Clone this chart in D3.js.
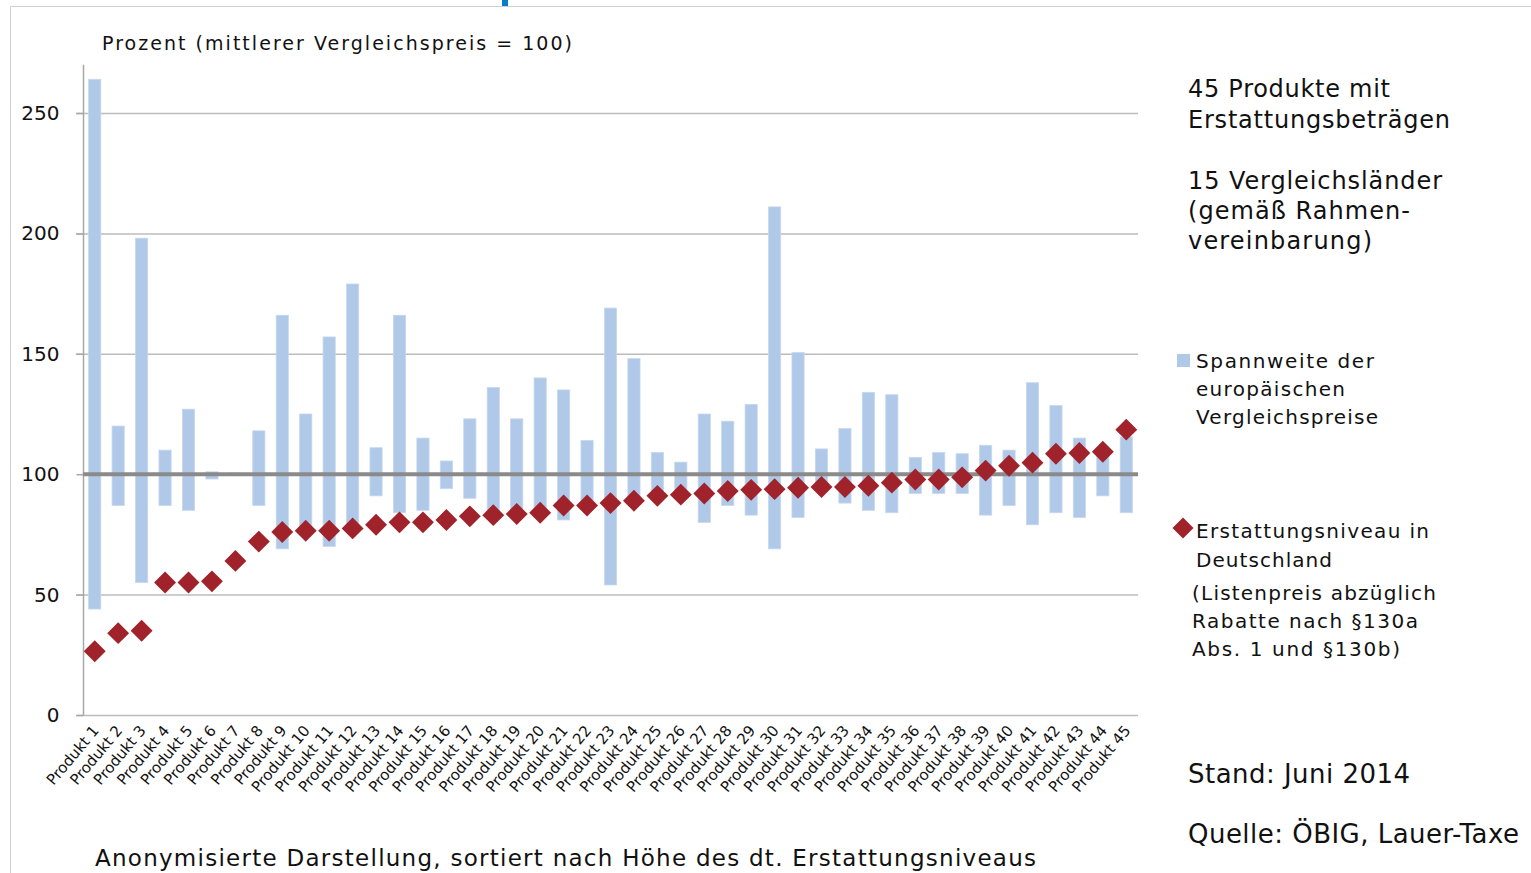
<!DOCTYPE html>
<html>
    <head>
        <meta charset="utf-8">
        <title>Erstattungsbeträge</title>
        <script src="https://d3js.org/d3.v7.min.js"></script>
        <style>
            body { margin: 0; background: #fff; }
            text { font-family: "DejaVu Sans", Verdana, sans-serif; fill: #111; }
        </style>
    </head>
    <body>
       <div id="svgcontainer"></div>
       <script>
            var width = 1531;
            var height = 873;

            // 45 Produkte, sortiert nach dt. Erstattungsniveau
            var produkte = d3.range(1, 46).map(function(i) { return "Produkt " + i; });

            // Spannweite der europäischen Vergleichspreise (min / max)
            var spanneMin = [44, 87, 55, 87, 85, 98, 99.5, 87, 69, 75,
                             70, 77, 91, 84, 85, 94, 90, 84, 84, 83,
                             81, 87, 54, 89, 91, 91.5, 80, 87, 83, 69,
                             82, 94.5, 88, 85, 84, 92, 92, 92, 83, 87,
                             79, 84, 82, 91, 84];
            var spanneMax = [264, 120, 198, 110, 127, 101, 100.5, 118, 166, 125,
                             157, 179, 111, 166, 115, 105.5, 123, 136, 123, 140,
                             135, 114, 169, 148, 109, 105, 125, 122, 129, 211,
                             150.5, 110.5, 119, 134, 133, 107, 109, 108.5, 112, 110,
                             138, 128.5, 115, 109, 115.5];

            // Erstattungsniveau in Deutschland
            var erstattung = [26.5, 34, 35, 55, 55, 55.5, 64, 72, 76, 76.5,
                              76.5, 77.5, 79, 80, 80, 81, 82.5, 83, 83.5, 84,
                              87, 87, 88, 89, 91, 91.5, 92, 93, 93.5, 93.8,
                              94.4, 94.7, 94.7, 95.2, 96.5, 97.8, 97.8, 98.7, 101.5, 103.5,
                              104.8, 108.5, 108.8, 109.3, 118.5];

            var yTicks = [0, 50, 100, 150, 200, 250];

            var svg = d3.select("#svgcontainer")
                .append("svg")
                .attr("width", width)
                .attr("height", height);

            // rahmen
            svg.append("path")
                .attr("d", "M10.5," + height + "V6.5H" + width)
                .attr("fill", "none")
                .attr("stroke", "#d0d0d0");
            svg.append("rect")
                .attr("x", 502).attr("y", 0)
                .attr("width", 6).attr("height", 6)
                .attr("fill", "#0a7bc4");

            var x = d3.scaleBand()
                .domain(produkte)
                .range([83, 1138])
                .paddingInner(0.48)
                .paddingOuter(0.24);

            var y = d3.scaleLinear()
                .domain([0, 270])
                .range([715, 715 - 270 * 2.408]);

            // gitterlinien
            svg.append("g")
                .selectAll("line")
                .data(yTicks.filter(function(d) { return d != 100; }))
                .enter().append("line")
                .attr("x1", 76).attr("x2", 1138)
                .attr("y1", function(d) { return y(d) + 0.5; })
                .attr("y2", function(d) { return y(d) + 0.5; })
                .attr("stroke", "#bcbcbc")
                .attr("stroke-width", 1.5);

            // y-achse
            var yAxis = svg.append("g")
                .attr("transform", "translate(83.5,0)")
                .call(d3.axisLeft(y).tickValues(yTicks).tickSize(7).tickPadding(17));
            yAxis.select(".domain").attr("stroke", "#a8a8a8").attr("stroke-width", 1.5)
                .attr("d", "M0," + y(270) + "V" + y(0));
            yAxis.selectAll(".tick line").attr("stroke", "#a8a8a8").attr("stroke-width", 1.5);
            yAxis.selectAll(".tick text")
                .style("font-size", "20px")
                .style("font-family", "DejaVu Sans, Verdana, sans-serif")
                .attr("fill", "#111");

            // spannweite balken
            svg.append("g")
                .selectAll("rect")
                .data(produkte)
                .enter().append("rect")
                .attr("x", function(d) { return x(d); })
                .attr("width", x.bandwidth())
                .attr("y", function(d, i) { return y(spanneMax[i]); })
                .attr("height", function(d, i) { return y(spanneMin[i]) - y(spanneMax[i]); })
                .attr("fill", "#b0c9e8")
                .attr("stroke", "#c6d8ef")
                .attr("stroke-width", 0.8);

            // 100-linie
            svg.append("line")
                .attr("x1", 83).attr("x2", 1138)
                .attr("y1", y(100)).attr("y2", y(100))
                .attr("stroke", "#8a8a8a")
                .attr("stroke-width", 4);

            // rauten
            var raute = d3.symbol().type(d3.symbolSquare).size(240);
            svg.append("g")
                .selectAll("path")
                .data(produkte)
                .enter().append("path")
                .attr("d", raute)
                .attr("transform", function(d, i) {
                    return "translate(" + (x(d) + x.bandwidth() / 2) + "," + y(erstattung[i]) + ") rotate(45)";
                })
                .attr("fill", "#a0222a");

            // x-beschriftung
            svg.append("g")
                .selectAll("text")
                .data(produkte)
                .enter().append("text")
                .attr("transform", function(d) {
                    return "translate(" + (x(d) + x.bandwidth() / 2 + 5) + ",731) rotate(-50)";
                })
                .attr("text-anchor", "end")
                .style("font-size", "15px")
                .text(function(d) { return d; });

            function label(txt, tx, ty, size, len) {
                svg.append("text")
                    .attr("x", tx).attr("y", ty)
                    .attr("textLength", len)
                    .style("font-size", size + "px")
                    .text(txt);
            }

            label("Prozent (mittlerer Vergleichspreis  = 100)", 102, 50, 19, 470);
            label("Anonymisierte Darstellung, sortiert nach Höhe des dt. Erstattungsniveaus", 95, 866, 23, 941);

            label("45 Produkte mit", 1188, 97, 24, 202);
            label("Erstattungsbeträgen", 1188, 128, 24, 262);
            label("15 Vergleichsländer", 1188, 189, 24, 254);
            label("(gemäß Rahmen-", 1188, 219, 24, 222);
            label("vereinbarung)", 1188, 249, 24, 184);

            // legende
            svg.append("rect")
                .attr("x", 1177).attr("y", 354)
                .attr("width", 13).attr("height", 13)
                .attr("fill", "#b0c9e8");
            label("Spannweite der", 1196, 368, 20, 178);
            label("europäischen", 1196, 396, 20, 149);
            label("Vergleichspreise", 1196, 424, 20, 182);

            svg.append("path")
                .attr("d", d3.symbol().type(d3.symbolSquare).size(220))
                .attr("transform", "translate(1183,528) rotate(45)")
                .attr("fill", "#a0222a");
            label("Erstattungsniveau in", 1196, 538, 20, 233);
            label("Deutschland", 1196, 567, 20, 136);
            label("(Listenpreis abzüglich", 1192, 600, 20, 244);
            label("Rabatte nach §130a", 1192, 628, 20, 226);
            label("Abs. 1 und §130b)", 1192, 656, 20, 208);

            label("Stand: Juni 2014", 1188, 783, 26, 222);
            label("Quelle: ÖBIG, Lauer-Taxe", 1188, 843, 26, 331);
       </script>
    </body>
</html>
